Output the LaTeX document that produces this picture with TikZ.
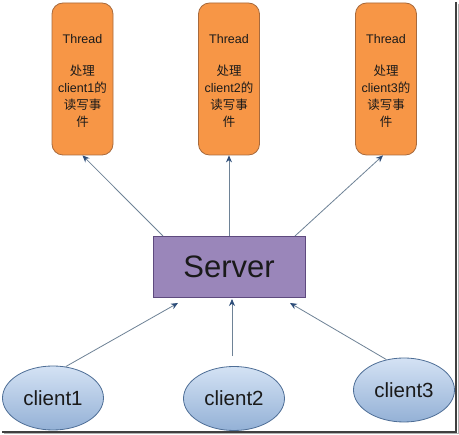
\documentclass[tikz,border=0pt]{standalone}
\usepackage{fontspec}
\setmainfont{Liberation Sans}
\newfontfamily\cjk{Noto Sans CJK SC}
\usetikzlibrary{arrows.meta,shapes.geometric}
\definecolor{thfill}{HTML}{F79646}
\definecolor{thdraw}{HTML}{A86A3C}
\definecolor{svfill}{HTML}{9A86BA}
\definecolor{svdraw}{HTML}{5E4A7E}
\definecolor{cltop}{HTML}{D4E2F4}
\definecolor{clbot}{HTML}{94B1D6}
\definecolor{cldraw}{HTML}{4E6E96}
\definecolor{lnc}{HTML}{6E8296}
\definecolor{tipc}{HTML}{2E4E7A}
\definecolor{txt}{HTML}{1A1A1A}
\tikzset{
  threadbox/.style={draw=thdraw, fill=thfill, rounded corners=11pt, minimum width=61pt, minimum height=152pt, line width=0.8pt, inner sep=0pt},
  serverbox/.style={draw=svdraw, fill=svfill, minimum width=152pt, minimum height=61pt, line width=0.8pt, text=txt, font=\fontsize{31}{33}\selectfont},
  clientell/.style={ellipse, draw=cldraw, top color=cltop, bottom color=clbot, minimum width=101pt, minimum height=64pt, line width=0.8pt, inner sep=0pt, text=txt, font=\fontsize{20.5}{22}\selectfont},
  conn/.style={draw=lnc, line width=0.8pt, -{Stealth[length=7pt,width=6pt,color=tipc]}},
  thtext/.style={align=center, font=\fontsize{12.5}{17}\selectfont, text=txt}
}
\begin{document}
\begin{tikzpicture}[x=1pt,y=-1pt]
\useasboundingbox (0,0) rectangle (459,435);
\fill[white] (0,0) rectangle (459,435);
% frame shadow
\draw[black!75, line width=1.5pt] (456,2) -- (456,432) -- (2,432);
\draw[black!30, line width=1pt] (458,4) -- (458,434) -- (4,434);
% threads
\node[threadbox] (t1) at (82.5,79) {};
\node[threadbox] (t2) at (229,79) {};
\node[threadbox] (t3) at (386,79) {};
\foreach \i/\x in {1/82.5,2/229,3/386}{
  \node[thtext] (tt\i) at (\x,39) {Thread};
  \node[thtext, anchor=north] (tc\i) at (\x,61) {{\cjk 处理}\\client\i{\cjk 的}\\{\cjk 读写事}\\{\cjk 件}};
}
% server
\node[serverbox] (s) at (229,266.5) {Server};
% clients
\node[clientell] (c1) at (53,398) {client1};
\node[clientell] (c2) at (234,398.5) {client2};
\node[clientell] (c3) at (404,390) {client3};
% connectors
\coordinate (s1) at (163,236);
\coordinate (s3) at (295,236);
\coordinate (b1) at (178,303);
\coordinate (b2) at (232,299);
\coordinate (b3) at (290,303);
\draw[conn] (s1) -- (t1.south);
\draw[conn] (s) -- (t2.south);
\draw[conn] (s3) -- ([xshift=-3pt]t3.south);
\draw[conn] (c1.68) -- (b1);
\draw[conn] (c2.north) ++(-2,-10) -- (b2);
\draw[conn] (c3.120) -- (b3);
\end{tikzpicture}
\end{document}
